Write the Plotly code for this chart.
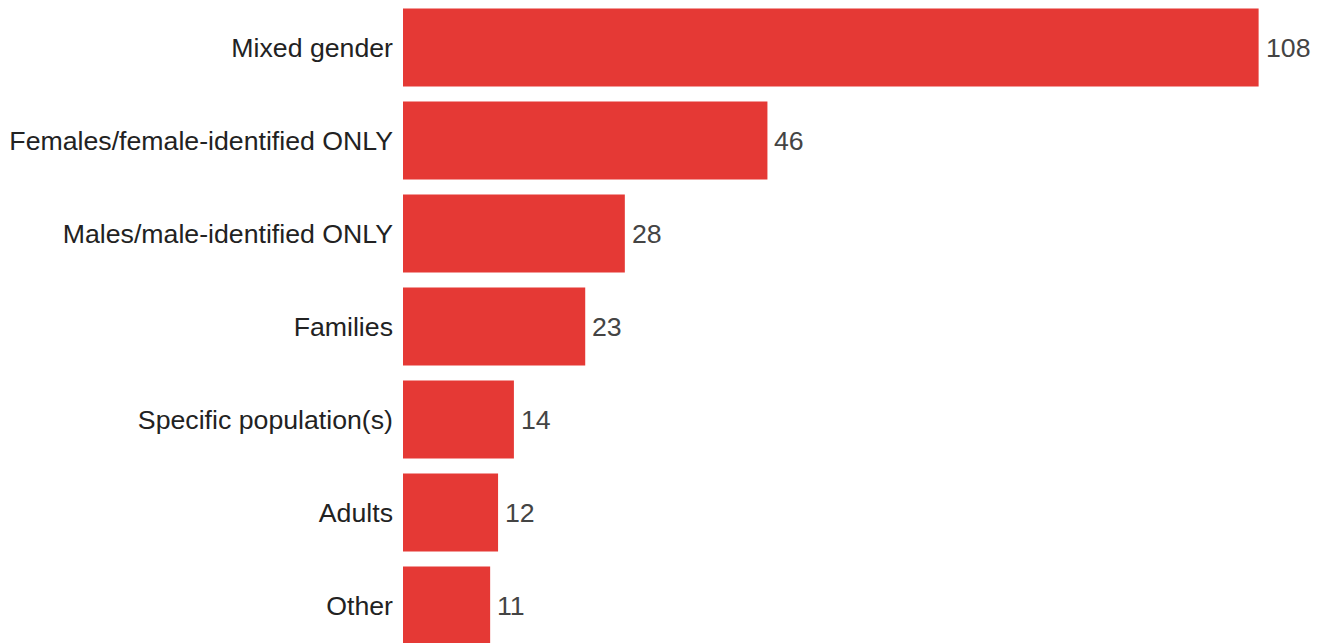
import plotly.graph_objects as go

categories = [
    "Mixed gender",
    "Females/female-identified ONLY",
    "Males/male-identified ONLY",
    "Families",
    "Specific population(s)",
    "Adults",
    "Other",
]
counts = [108, 46, 28, 23, 14, 12, 11]

bar_color = "#E53935"
font_family = "Liberation Sans, Arial, sans-serif"
label_size = 26.7

fig = go.Figure(
    go.Bar(
        x=counts,
        y=categories,
        orientation="h",
        marker=dict(color=bar_color, line=dict(width=0)),
        hoverinfo="x+y",
    )
)

# value labels just past the end of each bar
for cat, val in zip(categories, counts):
    fig.add_annotation(
        x=val,
        y=cat,
        text=str(val),
        showarrow=False,
        xanchor="left",
        xshift=5,
        font=dict(family=font_family, size=label_size, color="#444444"),
    )

fig.update_layout(
    width=1322,
    height=653,
    margin=dict(l=403, r=0, t=1, b=1),
    paper_bgcolor="white",
    plot_bgcolor="white",
    bargap=0.16,
    showlegend=False,
    font=dict(family=font_family, size=label_size, color="#222222"),
    xaxis=dict(
        range=[0, 116],
        visible=False,
        fixedrange=True,
    ),
    yaxis=dict(
        autorange="reversed",
        showgrid=False,
        zeroline=False,
        showline=False,
        ticks="",
        ticklabelstandoff=9,
        tickfont=dict(family=font_family, size=label_size, color="#222222"),
        fixedrange=True,
    ),
)

fig.write_html("out.html")
